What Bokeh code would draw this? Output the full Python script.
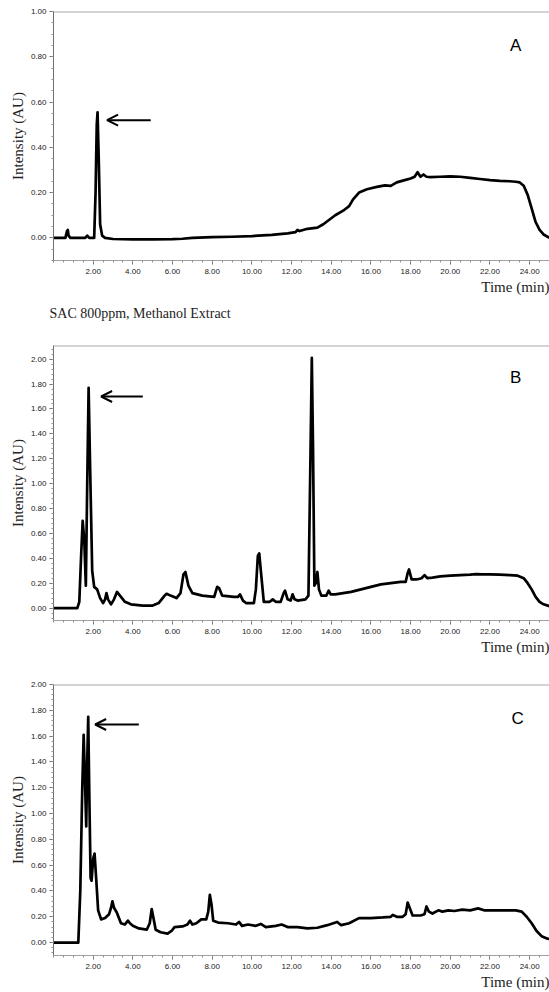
from bokeh.plotting import figure
from bokeh.layouts import column
from bokeh.models import (ColumnDataSource, FixedTicker, SingleIntervalTicker, PrintfTickFormatter,
                          Label, Arrow, OpenHead, Span, Range1d, Title)
from bokeh.embed import file_html
from bokeh.resources import INLINE

# ---------------- data (time in min, intensity in AU) ----------------
pts_a = [(0, 0.0), (0.6, 0.0), (0.68, 0.03), (0.72, 0.035), (0.76, 0.01), (0.85, 0.0), (1.6, 0.0), (1.7, 0.01),
         (1.8, 0.0), (2.05, 0.0), (2.12, 0.2), (2.18, 0.5), (2.22, 0.555), (2.28, 0.35), (2.35, 0.06), (2.45, 0.01),
         (2.6, 0.0), (3.0, -0.005), (4.0, -0.007), (5.0, -0.007), (6.0, -0.006), (6.5, -0.004), (7.0, 0.0),
         (8.0, 0.003), (9.0, 0.005), (10.0, 0.008), (11.0, 0.013), (11.8, 0.02), (12.2, 0.025), (12.3, 0.035),
         (12.4, 0.03), (12.8, 0.04), (13.3, 0.045), (13.6, 0.06), (13.9, 0.08), (14.2, 0.1), (14.6, 0.12),
         (14.9, 0.14), (15.1, 0.17), (15.4, 0.2), (15.8, 0.215), (16.3, 0.225), (16.7, 0.232), (17.0, 0.23),
         (17.3, 0.245), (17.7, 0.255), (18.0, 0.262), (18.2, 0.27), (18.35, 0.29), (18.5, 0.27), (18.65, 0.28),
         (18.8, 0.27), (19.0, 0.268), (19.5, 0.27), (20.0, 0.272), (20.5, 0.27), (21.0, 0.265), (21.5, 0.26),
         (22.0, 0.255), (22.5, 0.252), (23.0, 0.25), (23.3, 0.248), (23.5, 0.245), (23.7, 0.23), (23.9, 0.19),
         (24.1, 0.13), (24.3, 0.07), (24.5, 0.035), (24.7, 0.015), (25.0, 0.0)]

pts_b = [(0, 0.0), (1.2, 0.0), (1.3, 0.05), (1.4, 0.45), (1.47, 0.70), (1.55, 0.55), (1.63, 0.18), (1.7, 1.0),
         (1.77, 1.77), (1.85, 1.1), (1.95, 0.3), (2.05, 0.17), (2.2, 0.15), (2.35, 0.08), (2.5, 0.04), (2.6, 0.07),
         (2.67, 0.12), (2.75, 0.07), (2.9, 0.03), (3.05, 0.07), (3.2, 0.13), (3.35, 0.1), (3.6, 0.05), (3.9, 0.03),
         (4.5, 0.02), (5.0, 0.02), (5.3, 0.04), (5.6, 0.1), (5.7, 0.115), (5.9, 0.1), (6.2, 0.08), (6.4, 0.12),
         (6.55, 0.27), (6.65, 0.29), (6.8, 0.18), (7.0, 0.12), (7.5, 0.1), (8.1, 0.09), (8.25, 0.17), (8.35, 0.16),
         (8.5, 0.1), (9.1, 0.09), (9.3, 0.09), (9.4, 0.11), (9.55, 0.06), (9.7, 0.04), (10.1, 0.04), (10.2, 0.15),
         (10.3, 0.42), (10.37, 0.44), (10.45, 0.3), (10.6, 0.05), (10.9, 0.05), (11.05, 0.07), (11.2, 0.05),
         (11.45, 0.05), (11.6, 0.12), (11.67, 0.14), (11.8, 0.07), (11.95, 0.06), (12.05, 0.11), (12.15, 0.07),
         (12.3, 0.06), (12.7, 0.07), (12.85, 0.1), (12.95, 1.2), (13.02, 2.01), (13.08, 1.3), (13.15, 0.18),
         (13.22, 0.2), (13.3, 0.29), (13.38, 0.15), (13.5, 0.1), (13.75, 0.1), (13.87, 0.14), (13.97, 0.11),
         (14.2, 0.11), (14.6, 0.12), (15.0, 0.13), (15.5, 0.15), (16.0, 0.17), (16.5, 0.19), (17.0, 0.2),
         (17.5, 0.21), (17.75, 0.21), (17.85, 0.28), (17.92, 0.31), (18.05, 0.23), (18.3, 0.23), (18.55, 0.24),
         (18.7, 0.265), (18.85, 0.24), (19.1, 0.245), (19.5, 0.255), (20.0, 0.26), (20.5, 0.265), (21.0, 0.268),
         (21.3, 0.272), (21.6, 0.27), (22.0, 0.27), (22.5, 0.268), (23.0, 0.265), (23.4, 0.26), (23.7, 0.24),
         (23.9, 0.2), (24.1, 0.15), (24.3, 0.09), (24.5, 0.05), (24.7, 0.03), (25.0, 0.015)]

pts_c = [(0, 0.0), (1.25, 0.0), (1.35, 0.4), (1.45, 1.2), (1.52, 1.61), (1.58, 1.3), (1.65, 0.9), (1.7, 1.4),
         (1.75, 1.75), (1.8, 1.2), (1.87, 0.5), (1.92, 0.48), (2.0, 0.65), (2.07, 0.69), (2.15, 0.5), (2.25, 0.25),
         (2.4, 0.18), (2.6, 0.19), (2.8, 0.22), (2.9, 0.27), (2.97, 0.32), (3.05, 0.27), (3.2, 0.23), (3.4, 0.15),
         (3.6, 0.14), (3.75, 0.17), (3.85, 0.15), (4.0, 0.13), (4.3, 0.11), (4.7, 0.1), (4.85, 0.15), (4.95, 0.26),
         (5.05, 0.18), (5.15, 0.1), (5.4, 0.08), (5.75, 0.07), (5.95, 0.09), (6.1, 0.12), (6.5, 0.125), (6.75, 0.14),
         (6.88, 0.17), (7.0, 0.14), (7.2, 0.15), (7.45, 0.18), (7.7, 0.18), (7.8, 0.24), (7.88, 0.37), (7.96, 0.3),
         (8.05, 0.17), (8.3, 0.155), (8.8, 0.15), (9.2, 0.14), (9.35, 0.16), (9.5, 0.13), (9.8, 0.14), (10.2, 0.13),
         (10.45, 0.145), (10.7, 0.12), (11.2, 0.13), (11.5, 0.14), (11.8, 0.12), (12.3, 0.12), (12.8, 0.11),
         (13.3, 0.115), (13.8, 0.135), (14.1, 0.15), (14.3, 0.16), (14.5, 0.135), (14.9, 0.15), (15.4, 0.19),
         (16.0, 0.19), (16.6, 0.195), (17.0, 0.2), (17.1, 0.215), (17.3, 0.2), (17.6, 0.2), (17.75, 0.22),
         (17.85, 0.31), (17.95, 0.27), (18.1, 0.21), (18.5, 0.21), (18.7, 0.22), (18.8, 0.28), (18.92, 0.24),
         (19.1, 0.225), (19.4, 0.25), (19.6, 0.24), (19.9, 0.25), (20.2, 0.245), (20.6, 0.255), (21.0, 0.25),
         (21.4, 0.265), (21.7, 0.25), (22.5, 0.25), (23.3, 0.25), (23.6, 0.24), (23.85, 0.2), (24.1, 0.15),
         (24.35, 0.09), (24.6, 0.05), (24.9, 0.03), (25.0, 0.028)]

x_ticks = [2, 4, 6, 8, 10, 12, 14, 16, 18, 20, 22, 24]
panel_letters = ["A", "B", "C"]
subtitle = "SAC 800ppm, Methanol Extract"
y_label = "Intensity (AU)"
x_label = "Time (min)"

SANS = "Liberation Sans"
SERIF = "Liberation Serif"


def make_panel(pts, y_top, height, b_top, b_bottom, b_left, letter, letter_pos, arrow, minor_n, t_standoff):
    p = figure(width=549, height=height, output_backend="svg", toolbar_location=None,
               x_range=Range1d(0, 25), y_range=Range1d(-0.1, y_top),
               min_border_top=b_top, min_border_bottom=b_bottom, min_border_left=b_left, min_border_right=0)
    p.outline_line_color = None
    p.background_fill_color = "white"
    p.border_fill_color = "white"
    p.xgrid.visible = False
    p.ygrid.visible = False

    src = ColumnDataSource(dict(t=[q[0] for q in pts], v=[q[1] for q in pts]))
    p.line("t", "v", source=src, line_color="black", line_width=2.7, line_join="round")

    # top frame border
    p.add_layout(Span(location=y_top, dimension="width", line_color="#a8a8a8", line_width=2))

    xa = p.xaxis[0]
    xa.ticker = FixedTicker(ticks=x_ticks, minor_ticks=[i * 0.5 for i in range(51)])
    xa.formatter = PrintfTickFormatter(format="%.2f")
    xa.major_label_text_font = SANS
    xa.major_label_text_font_size = "8px"
    xa.major_label_text_color = "#222222"
    xa.major_label_standoff = 4
    xa.axis_line_color = "#a0a0a0"
    xa.major_tick_line_color = "#707070"
    xa.minor_tick_line_color = "#909090"
    xa.major_tick_out = 4
    xa.major_tick_in = 0
    xa.minor_tick_out = 2
    xa.minor_tick_in = 0

    ya = p.yaxis[0]
    ya.ticker = SingleIntervalTicker(interval=0.2, num_minor_ticks=minor_n)
    ya.formatter = PrintfTickFormatter(format="%.2f")
    ya.major_label_text_font = SANS
    ya.major_label_text_font_size = "8px"
    ya.major_label_text_color = "#222222"
    ya.major_label_standoff = 3
    ya.axis_line_color = "#707070"
    ya.major_tick_line_color = "#707070"
    ya.minor_tick_line_color = "#909090"
    ya.major_tick_out = 4
    ya.major_tick_in = 0
    ya.minor_tick_out = 2
    ya.minor_tick_in = 0
    ya.axis_label = y_label
    ya.axis_label_text_font = SERIF
    ya.axis_label_text_font_size = "15px"
    ya.axis_label_text_font_style = "normal"
    ya.axis_label_text_color = "#222222"
    ya.axis_label_standoff = 2

    p.add_layout(Title(text=x_label, align="right", text_font=SERIF, text_font_size="15px",
                       text_font_style="normal", text_color="#222222", standoff=t_standoff), "below")

    p.add_layout(Label(x=letter_pos[0], y=letter_pos[1], text=letter, text_font=SANS, text_font_size="17px",
                       text_align="center", text_baseline="middle", text_color="black"))
    p.add_layout(Arrow(end=OpenHead(size=11, line_width=2, line_color="black"),
                       x_start=arrow[0], x_end=arrow[1], y_start=arrow[2], y_end=arrow[2],
                       line_width=2, line_color="black"))
    return p


pa = make_panel(pts_a, 1.0, 333, 11, 73, 53, panel_letters[0], (23.3, 0.85), (4.9, 2.7, 0.52), 4, 0)
pa.add_layout(Title(text=subtitle, align="left", offset=-4, text_font=SERIF, text_font_size="14px",
                    text_font_style="normal", text_color="#222222", standoff=18), "below")
pb = make_panel(pts_b, 2.11, 327, 12, 40, 51, panel_letters[1], (23.3, 1.85), (4.5, 2.4, 1.70), 5, 0)
pc = make_panel(pts_c, 2.0, 332, 24, 37, 49, panel_letters[2], (23.4, 1.74), (4.3, 2.1, 1.69), 5, 0)

layout = column(pa, pb, pc, spacing=0)
open("out.html", "w").write(file_html(layout, INLINE))
